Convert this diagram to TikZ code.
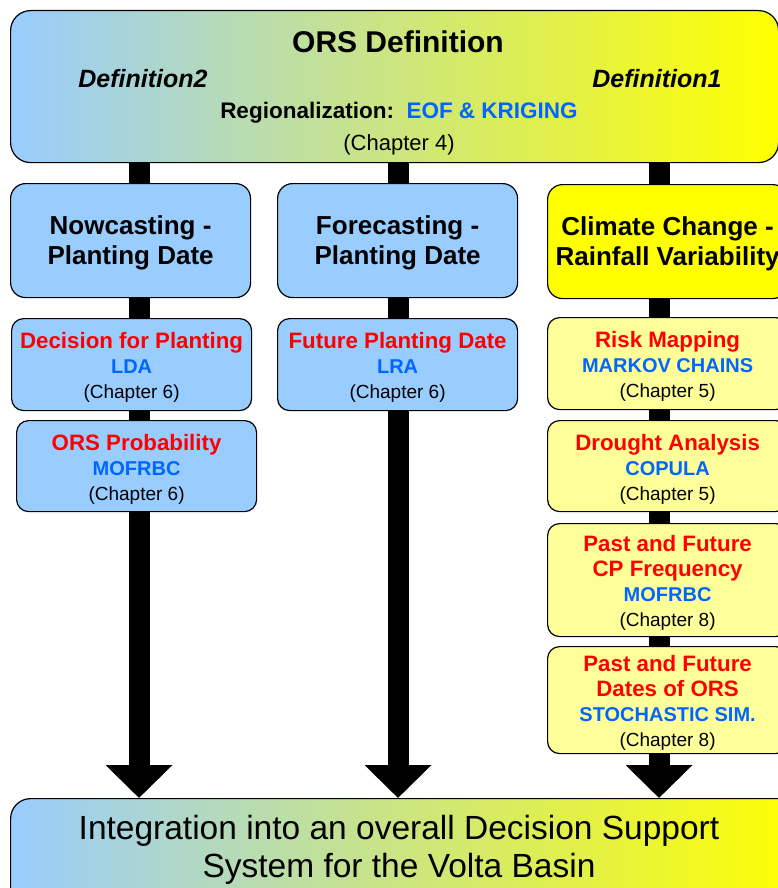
\documentclass[tikz,border=0pt]{standalone}
\usepackage{fontspec}
\setmainfont{Liberation Sans}
\usetikzlibrary{arrows.meta}
\pgfdeclarelayer{background}
\pgfsetlayers{background,main}
\definecolor{lblue}{RGB}{153,204,255}
\definecolor{midg}{RGB}{198,225,210}
\definecolor{yel}{RGB}{255,255,0}
\definecolor{lyel}{RGB}{255,255,153}
\definecolor{tred}{RGB}{255,0,0}
\definecolor{tblue}{RGB}{0,102,255}
\newcommand\redt[1]{{\color{tred}#1}}
\newcommand\bluet[1]{{\fontsize{20}{25}\selectfont\color{tblue}#1}}
\newcommand\chapt[1]{{\fontsize{19}{25}\selectfont\mdseries #1}}
\tikzset{
  gradbox/.style={draw=black, line width=1.2pt, rounded corners=20pt, anchor=north west, inner sep=0pt,
    left color=lblue, middle color=midg, right color=yel},
  hdrbox/.style={draw=black, line width=1.2pt, rounded corners=15pt, anchor=north west, inner sep=0pt,
    minimum width=240pt, minimum height=114pt},
  hdrtext/.style={align=center, inner sep=0pt, yshift=-2.5pt, font=\fontsize{26}{30}\selectfont\bfseries},
  subbox/.style={draw=black, line width=1.2pt, rounded corners=12pt, anchor=north west, inner sep=0pt,
    minimum width=240pt},
  subtext/.style={align=center, inner sep=0pt, yshift=-3pt, font=\fontsize{22.3}{25}\selectfont\bfseries},
  bluefill/.style={fill=lblue},
  yelfill/.style={fill=lyel},
  bigarrow/.style={line width=21pt, draw=black, -{Triangle[width=65pt,length=33pt]}},
  toptext/.style={inner sep=0pt, anchor=center}
}
\begin{document}
\begin{tikzpicture}[x=1pt,y=-1pt]
\useasboundingbox (0,0) rectangle (777,888);
% top box
\node[gradbox, minimum width=768pt, minimum height=152pt] (top) at (10,10) {};
\node[toptext, font=\fontsize{30}{34}\selectfont\bfseries] (title) at (398,42) {ORS Definition};
\node[toptext, font=\fontsize{25}{28}\selectfont\bfseries\itshape] (def2) at (143,79) {Definition2};
\node[toptext, font=\fontsize{25}{28}\selectfont\bfseries\itshape] (def1) at (657,79) {Definition1};
\node[toptext, font=\fontsize{22.5}{26}\selectfont\bfseries] (reg) at (399,113) {Regionalization:\ \ {\color{tblue}EOF \& KRIGING}};
\node[toptext, font=\fontsize{22}{26}\selectfont] (ch4) at (399,145) {(Chapter 4)};
% headers
\node[hdrbox, bluefill, label={[hdrtext]center:Nowcasting -\\Planting Date}] (h1) at (10,183) {};
\node[hdrbox, bluefill, label={[hdrtext]center:Forecasting -\\Planting Date}] (h2) at (277,183) {};
\node[hdrbox, fill=yel, label={[hdrtext]center:Climate Change -\\Rainfall Variability}] (h3) at (547,184) {};
% column 1
\node[subbox, bluefill, minimum height=92pt, label={[subtext]center:\redt{Decision for Planting}\\\bluet{LDA}\\\chapt{(Chapter 6)}}] (a1) at (11,318) {};
\node[subbox, bluefill, minimum height=91pt, label={[subtext]center:\redt{ORS Probability}\\\bluet{MOFRBC}\\\chapt{(Chapter 6)}}] (a2) at (16,420) {};
% column 2
\node[subbox, bluefill, minimum height=92pt, label={[subtext]center:\redt{Future Planting Date}\\\bluet{LRA}\\\chapt{(Chapter 6)}}] (b1) at (277,318) {};
% column 3
\node[subbox, yelfill, minimum height=92pt, label={[subtext]center:\redt{Risk Mapping}\\\bluet{MARKOV CHAINS}\\\chapt{(Chapter 5)}}] (c1b) at (547,317) {};
\node[subbox, yelfill, minimum height=91pt, label={[subtext]center:\redt{Drought Analysis}\\\bluet{COPULA}\\\chapt{(Chapter 5)}}] (c2b) at (547,420) {};
\node[subbox, yelfill, minimum height=113pt, label={[subtext]center:\redt{Past and Future}\\\redt{CP Frequency}\\\bluet{MOFRBC}\\\chapt{(Chapter 8)}}] (c3b) at (547,523) {};
\node[subbox, yelfill, minimum height=107pt, label={[subtext]center:\redt{Past and Future}\\\redt{Dates of ORS}\\\bluet{STOCHASTIC SIM.}\\\chapt{(Chapter 8)}}] (c4b) at (547,646) {};
% bottom box
\node[gradbox, minimum width=790pt, minimum height=110pt] (bot) at (10,798) {};
\node[toptext, align=center, font=\fontsize{33.5}{38}\selectfont] (bottext) at (399,850) {Integration into an overall Decision Support\\System for the Volta Basin};
% arrows
\coordinate (x1) at (139,0);
\coordinate (x2) at (398,0);
\coordinate (x3) at (659,0);
\begin{pgfonlayer}{background}
\draw[bigarrow] (top.south -| x1) -- (bot.north -| x1);
\draw[bigarrow] (top.south -| x2) -- (bot.north -| x2);
\draw[bigarrow] (top.south -| x3) -- (bot.north -| x3);
\end{pgfonlayer}
\end{tikzpicture}
\end{document}
